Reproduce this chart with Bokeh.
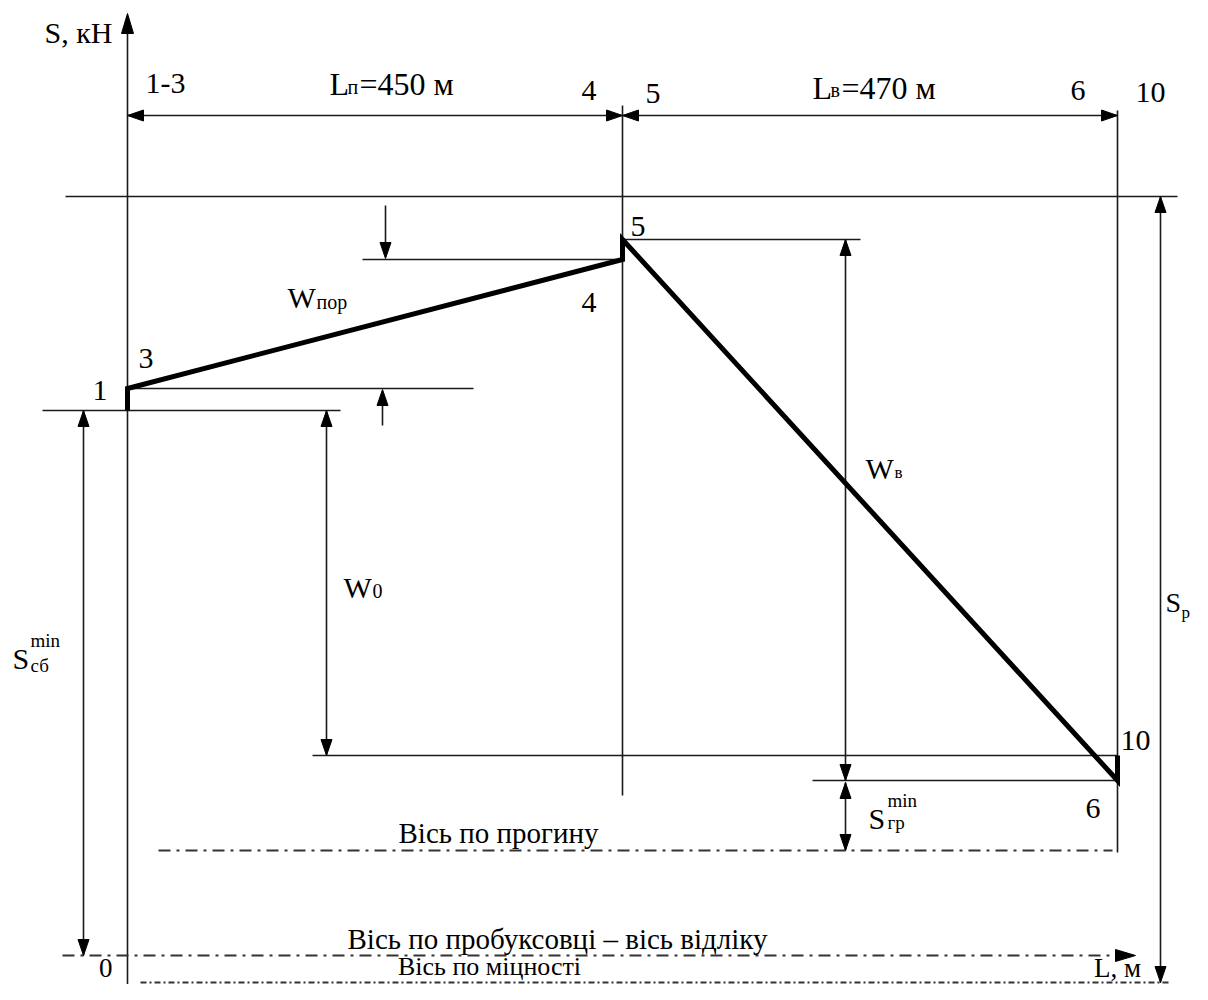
from bokeh.plotting import figure
from bokeh.models import Range1d
from bokeh.core.properties import value
from bokeh.embed import file_html
from bokeh.resources import INLINE

# ---------------- data (schematic drawing units) ----------------
# characteristic points of the tension diagram
point_names = ["1", "3", "4", "5", "6", "10"]
point_L = [0, 0, 495, 495, 990, 990]          # position along the haul
point_S = [550, 572, 701, 721, 180, 205]      # tension S, kN (drawing units)
span_sub = ["п", "в"]                          # L_п , L_в
span_text = ["=450 м", "=470 м"]
S_p_level = 764                                # S_р (strength level)
sag_axis = 110                                 # вісь по прогину
slip_axis = 5                                  # вісь по пробуксовці (reference)
strength_axis = -22                            # вісь по міцності

FONT = value("Liberation Serif")
INK = "#1a1a1a"
OFF = 10  # baseline correction for text

p = figure(width=1192, height=984, output_backend="svg", toolbar_location=None,
           x_range=Range1d(-127, 1065), y_range=Range1d(-24, 960),
           x_axis_location=None, y_axis_location=None, min_border=0)
p.grid.visible = False
p.outline_line_color = None
p.background_fill_color = "white"
p.border_fill_color = "white"

iL = dict(zip(point_names, point_L))
iS = dict(zip(point_names, point_S))
x_end = iL["6"]
x_mid = iL["4"]

heads_x, heads_y = [], []


def head(tx, ty, dx, dy, ln=16, w=11):
    bx, by = tx - dx * ln, ty - dy * ln
    nx, ny = -dy, dx
    heads_x.append([tx, bx + nx * w / 2, bx - nx * w / 2])
    heads_y.append([ty, by + ny * w / 2, by - ny * w / 2])


segs = []


def seg(x0, y0, x1, y1):
    segs.append((x0, y0, x1, y1))


def dbl_v(x, y_top, y_bot):
    seg(x, y_top, x, y_bot)
    head(x, y_top, 0, 1)
    head(x, y_bot, 0, -1)


# S axis
seg(0, -30, 0, 930)
head(0, 947, 0, 1, ln=20, w=12)
# verticals at points 4-5 and 6-10
seg(x_mid, 165, x_mid, 855)
seg(x_end, 108, x_end, 850)
# dimension line for spans
seg(0, 845, x_end, 845)
head(0, 845, -1, 0)
head(x_mid, 845, 1, 0)
head(x_mid, 845, -1, 0)
head(x_end, 845, 1, 0)
# S_p top line
seg(-62, S_p_level, 1050, S_p_level)
# level lines
seg(235, iS["4"], x_mid, iS["4"])
seg(x_mid, iS["5"], 733, iS["5"])
seg(0, iS["3"], 346, iS["3"])
seg(-85, iS["1"], 213, iS["1"])
seg(185, iS["10"], x_end, iS["10"])
seg(685, iS["6"], x_end, iS["6"])
# W_пор pointer arrows
seg(258, 755, 258, iS["4"] + 10)
head(258, iS["4"] + 1, 0, -1)
seg(255, 535, 255, iS["3"] - 10)
head(255, iS["3"] - 1, 0, 1)
# double arrows
dbl_v(199, iS["1"], iS["10"])          # W0
dbl_v(-44, iS["1"], slip_axis)         # S_сб^min
dbl_v(718, iS["5"], iS["6"])           # W_в
dbl_v(718, iS["6"] - 2, sag_axis)      # S_гр^min
dbl_v(1033, S_p_level, strength_axis)  # S_р
# arrow at the end of the reference axis
head(1008, slip_axis, 1, 0, ln=20, w=12)

x0, y0, x1, y1 = zip(*segs)
p.segment(x0=list(x0), y0=list(y0), x1=list(x1), y1=list(y1),
          line_color=INK, line_width=1.6)

# axis lines (dash-dot)
p.line([31, 985], [sag_axis, sag_axis], line_color="#333333", line_width=2.2,
       line_dash="12 6 3 6")
p.line([-65, 1000], [slip_axis, slip_axis], line_color="#333333", line_width=2.2,
       line_dash="12 6 3 6")
p.line([13, 1043], [strength_axis, strength_axis], line_color="#333333",
       line_width=2.2, line_dash="6 3 2 3")

p.patches(list(heads_x), list(heads_y), fill_color="black", line_color="black",
          line_width=1)

# tension diagram (thick polyline)
p.line(point_L, point_S, line_color="black", line_width=5, line_join="miter")


def txt(x, y, t, size=30, align="left"):
    p.text(x=[x], y=[y + OFF], text=[t], text_font=FONT, text_font_size=f"{size}px",
           text_color="black", text_align=align, text_baseline="alphabetic")


# header labels
txt(-15, 918, "S, кН", align="right")
txt(18, 867, "1-3")
txt(202, 867, "L", size=32)
txt(220, 864, span_sub[0], size=20)
txt(232, 867, span_text[0], size=32)
txt(469, 860, "4", align="right")
txt(518, 857, "5")
txt(685, 863, "L", size=32)
txt(703, 861, span_sub[1], size=20)
txt(714, 863, span_text[1], size=32)
txt(958, 860, "6", align="right")
txt(1008, 858, "10")

# point labels
txt(503, 724, point_names[3])
txt(469, 648, point_names[2], align="right")
txt(11, 592, point_names[1])
txt(-20, 560, point_names[0], align="right")
txt(993, 210, point_names[5])
txt(973, 142, point_names[4], align="right")

# quantity labels
txt(160, 653, "W")
txt(189, 649, "пор", size=20)
txt(738, 482, "W")
txt(767, 478, "в", size=17)
txt(216, 363, "W")
txt(245, 360, "0", size=20)
txt(-115, 292, "S")
txt(-97, 310, "min", size=19)
txt(-97, 285, "сб", size=19)
txt(1038, 348, "S", size=28)
txt(1054, 338, "р", size=17)
txt(741, 132, "S")
txt(760, 150, "min", size=19)
txt(760, 128, "гр", size=19)

# axis names
txt(371, 118, "Вісь по прогину", size=29, align="center")
txt(430, 12, "Вісь по пробуксовці – вісь відліку", size=29, align="center")
txt(-15, -17, "0", size=27, align="right")
txt(362, -16, "Вісь по міцності", size=26, align="center")
txt(990, -17, "L, м", size=27, align="center")

open("out.html", "w").write(file_html(p, INLINE))
